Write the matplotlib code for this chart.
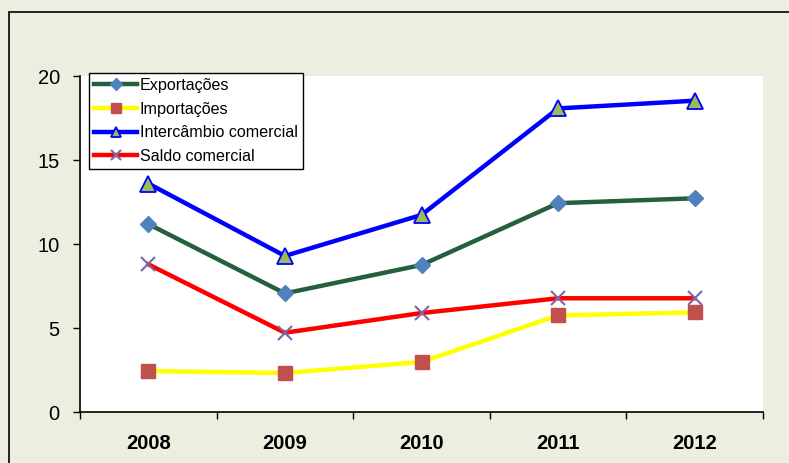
from matplotlib import pyplot as plt
from matplotlib.patches import Rectangle

# dados (bilhoes)
anos = ["2008", "2009", "2010", "2011", "2012"]
exportacoes = [11.19, 7.06, 8.75, 12.43, 12.72]
importacoes = [2.44, 2.32, 2.98, 5.75, 5.93]
intercambio = [13.60, 9.29, 11.73, 18.07, 18.53]
saldo = [8.79, 4.72, 5.89, 6.77, 6.77]

plt.rcParams['font.family'] = ['Liberation Sans', 'DejaVu Sans']

fig = plt.figure(figsize=(7.89, 4.63), dpi=100)
fig.patch.set_facecolor('#ECEEDF')
# moldura externa
fig.patches.append(Rectangle((9/789, -0.1), 1.2, (463-12.5)/463 + 0.1,
                             transform=fig.transFigure, fill=False,
                             edgecolor='#222222', linewidth=1.4))

ax = fig.add_axes([80/789, (463-412)/463, 683/789, 336/463])
ax.set_facecolor('white')

x = list(range(len(anos)))
ax.plot(x, exportacoes, color='#245F3E', lw=3.2, marker='D', ms=8.5,
        mfc='#4F81BD', mec='#4F81BD', label='Exportações', zorder=3)
ax.plot(x, importacoes, color='#FFFF00', lw=3.2, marker='s', ms=10,
        mfc='#C0504D', mec='#C0504D', label='Importações', zorder=3)
ax.plot(x, intercambio, color='#0000FF', lw=3.2, marker='^', ms=11,
        mfc='#9BBB59', mec='#0000FF', mew=1.3, label='Intercâmbio comercial', zorder=3)
ax.plot(x, saldo, color='#FF0000', lw=3.2, marker='x', ms=10,
        mec='#8064A2', mew=1.5, label='Saldo comercial', zorder=3)

ax.set_xlim(-0.5, 4.5)
ax.set_ylim(0, 20)
ax.set_yticks([0, 5, 10, 15, 20])
ax.tick_params(axis='y', direction='out', length=5, width=1, pad=9.5, labelsize=14.5)
ax.set_xticks(x)
ax.set_xticklabels(anos, fontweight='bold', fontsize=14.5)
ax.set_xticks([i - 0.5 for i in range(len(anos) + 1)], minor=True)
ax.tick_params(axis='x', which='major', length=0, pad=16)
ax.tick_params(axis='x', which='minor', direction='out', length=5, width=1)

for s in ['top', 'right']:
    ax.spines[s].set_visible(False)
for s in ['left', 'bottom']:
    ax.spines[s].set_linewidth(1.2)

leg = ax.legend(loc='upper left', bbox_to_anchor=(9/683, 339/336), borderaxespad=0,
                fontsize=11.6, handlelength=2.7, handletextpad=0.15, labelspacing=0.54,
                borderpad=0.3, markerscale=0.7, fancybox=False, framealpha=1,
                edgecolor='black')
leg.get_frame().set_linewidth(1.0)

fig.savefig("out.png", dpi=100, facecolor=fig.get_facecolor())
